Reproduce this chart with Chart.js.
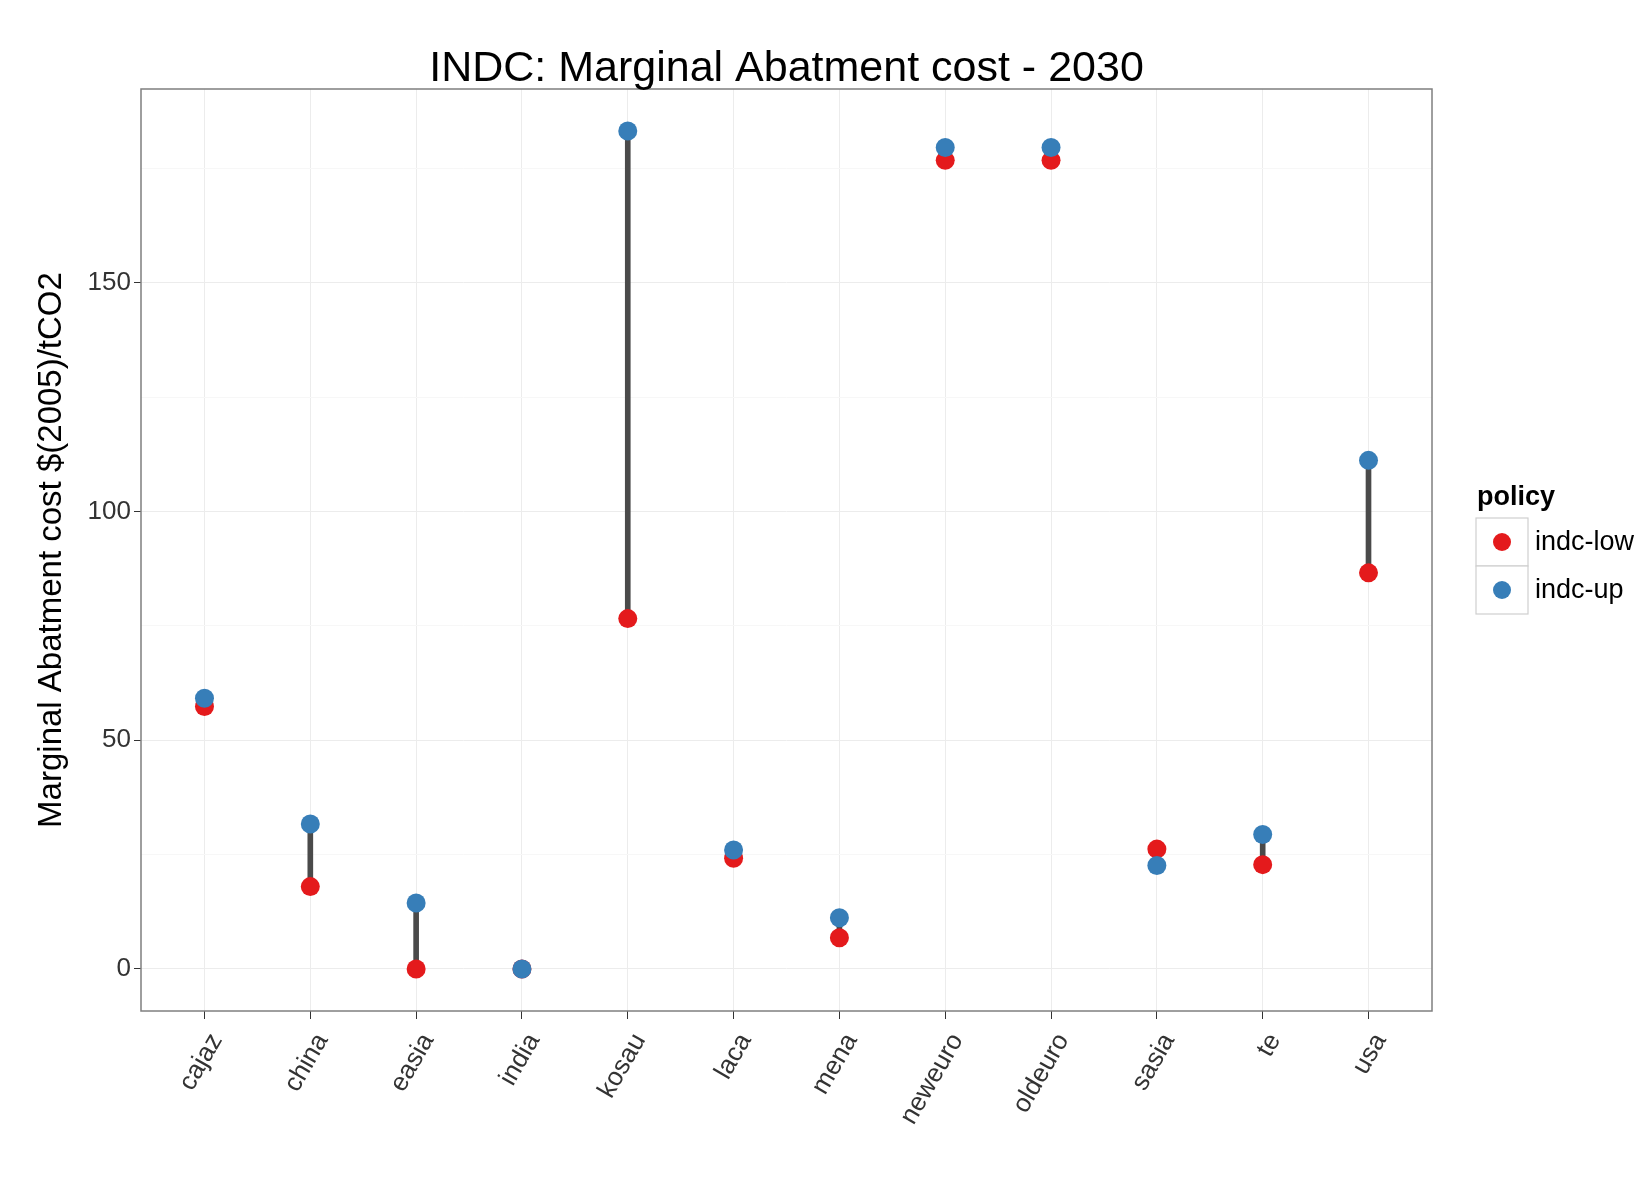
<!DOCTYPE html>
<html>
<head>
  <title>INDC: Marginal Abatment cost - 2030</title>
  <style>
    body {
      margin: 0;
      padding: 0;
      background-color: #ffffff;
    }
    #wrap {
      width: 1639px;
      height: 1186px;
    }
  </style>
  <script src="https://cdn.jsdelivr.net/npm/chart.js"></script>
</head>
<body>
  <div id="wrap">
    <canvas id="mac_chart" width="1639" height="1186"></canvas>
  </div>

  <script>
    // data
    var regions = ['cajaz', 'china', 'easia', 'india', 'kosau', 'laca', 'mena', 'neweuro', 'oldeuro', 'sasia', 'te', 'usa'];
    var indcLow = [57.4, 18.0, 0, 0, 76.6, 24.2, 6.8, 176.8, 176.8, 26.2, 22.8, 86.6];
    var indcUp = [59.2, 31.7, 14.4, 0, 183.2, 26.0, 11.2, 179.6, 179.6, 22.6, 29.4, 111.2];
    var yTicks = [0, 25, 50, 75, 100, 125, 150, 175];   // 25 etc = minor grid only
    var yLabelled = [0, 50, 100, 150];

    var FONT = '"Liberation Sans", Arial, Helvetica, sans-serif';

    // segment low -> up, drawn as a thin floating bar
    var segData = regions.map(function (r, i) {
      return { x: i, y: [indcLow[i], indcUp[i]] };
    });
    var lowData = regions.map(function (r, i) { return { x: i, y: indcLow[i] }; });
    var upData = regions.map(function (r, i) { return { x: i, y: indcUp[i] }; });

    // panel border, title and ggplot style legend
    var decorPlugin = {
      id: 'decor',
      beforeDatasetsDraw: function (chart) {
        var ctx = chart.ctx;
        var a = chart.chartArea;
        ctx.save();
        ctx.strokeStyle = '#7f7f7f';
        ctx.lineWidth = 1.5;
        ctx.strokeRect(a.left, a.top, a.right - a.left, a.bottom - a.top);
        ctx.restore();
      },
      afterDraw: function (chart) {
        var ctx = chart.ctx;
        var a = chart.chartArea;
        ctx.save();

        // title over the panel
        ctx.fillStyle = '#000';
        ctx.font = '43px ' + FONT;
        ctx.textAlign = 'center';
        ctx.textBaseline = 'alphabetic';
        ctx.fillText('INDC: Marginal Abatment cost - 2030', (a.left + a.right) / 2, 81);

        // legend
        ctx.textAlign = 'left';
        ctx.textBaseline = 'middle';
        ctx.font = 'bold 27px ' + FONT;
        ctx.fillText('policy', 1477, 498);

        var keys = [chart.data.datasets[1], chart.data.datasets[2]];
        for (var k = 0; k < keys.length; k++) {
          var top = 518 + k * 48;
          ctx.fillStyle = '#ffffff';
          ctx.fillRect(1476, top, 52, 48);
          ctx.strokeStyle = '#cfcfcf';
          ctx.lineWidth = 1.2;
          ctx.strokeRect(1476, top, 52, 48);
          ctx.fillStyle = keys[k].backgroundColor;
          ctx.beginPath();
          ctx.arc(1502, top + 24, 9, 0, Math.PI * 2);
          ctx.fill();
          ctx.fillStyle = '#000';
          ctx.font = '27px ' + FONT;
          ctx.fillText(keys[k].label, 1535, top + 25);
        }
        ctx.restore();
      }
    };

    var macChart = new Chart(document.getElementById('mac_chart'), {
      type: 'scatter',
      data: {
        datasets: [
          {
            type: 'bar',
            label: 'range',
            data: segData,
            backgroundColor: '#4a4a4a',
            borderWidth: 0,
            barThickness: 5,
            order: 3
          },
          {
            label: 'indc-low',
            data: lowData,
            backgroundColor: '#E41A1C',
            borderWidth: 0,
            pointRadius: 9.5,
            order: 2
          },
          {
            label: 'indc-up',
            data: upData,
            backgroundColor: '#377EB8',
            borderWidth: 0,
            pointRadius: 9.5,
            order: 1
          }
        ]
      },
      options: {
        responsive: false,
        animation: false,
        layout: {
          padding: { top: 89, right: 207, bottom: 0, left: 0 }
        },
        plugins: {
          legend: { display: false },
          tooltip: { enabled: false },
          title: { display: false }
        },
        scales: {
          x: {
            type: 'linear',
            min: -0.6,
            max: 11.6,
            offset: false,
            afterBuildTicks: function (scale) {
              scale.ticks = regions.map(function (r, i) { return { value: i }; });
            },
            afterFit: function (scale) {
              scale.height = 175;
            },
            ticks: {
              autoSkip: false,
              minRotation: 60,
              maxRotation: 60,
              padding: 9,
              labelOffset: 12,
              color: '#333333',
              font: { family: FONT, size: 26 },
              callback: function (value) {
                return regions[value];
              }
            },
            grid: {
              offset: false,
              color: '#ececec',
              lineWidth: 1,
              tickColor: '#333333',
              tickLength: 8
            },
            border: { display: false }
          },
          y: {
            type: 'linear',
            min: -9.2,
            max: 192.4,
            afterBuildTicks: function (scale) {
              scale.ticks = yTicks.map(function (v) { return { value: v }; });
            },
            afterFit: function (scale) {
              scale.width = 141;
            },
            ticks: {
              padding: 3,
              color: '#333333',
              font: { family: FONT, size: 26 },
              callback: function (value) {
                return yLabelled.indexOf(value) >= 0 ? value : '';
              }
            },
            grid: {
              color: function (c) {
                return c.tick && yLabelled.indexOf(c.tick.value) >= 0 ? '#ececec' : '#f7f7f7';
              },
              tickColor: function (c) {
                return c.tick && yLabelled.indexOf(c.tick.value) >= 0 ? '#333333' : 'rgba(0,0,0,0)';
              },
              tickLength: 7
            },
            border: { display: false },
            title: {
              display: true,
              text: 'Marginal Abatment cost $(2005)/tCO2',
              color: '#000000',
              font: { family: FONT, size: 33 },
              padding: { top: 32, bottom: 0 }
            }
          }
        }
      },
      plugins: [decorPlugin]
    });
  </script>
</body>
</html>
